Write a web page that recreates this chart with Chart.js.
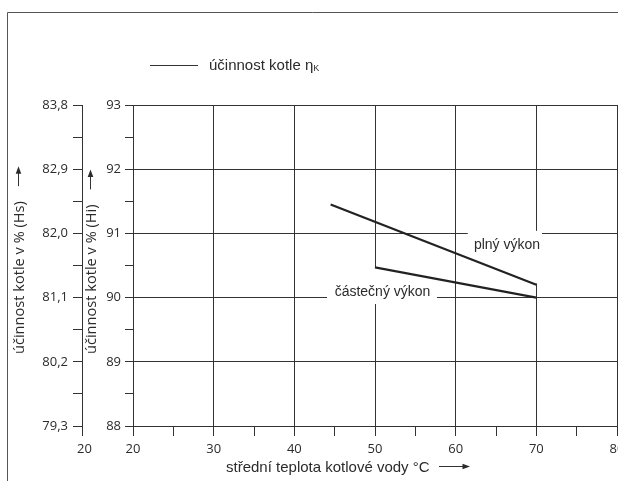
<!DOCTYPE html>
<html>
<head>
<meta charset="utf-8">
<style>
html,body{margin:0;padding:0;background:#fff;}
#wrap{width:618px;height:481px;position:relative;}
canvas{display:block;}
</style>
<script src="https://cdn.jsdelivr.net/npm/chart.js@4/dist/chart.umd.min.js"></script>
</head>
<body>
<div id="wrap"><canvas id="c" width="618" height="481"></canvas></div>
<script>
// ---- data ----
const fullLoadTemp = [44.5, 70];
const fullLoadEff  = [91.45, 90.2];
const partLoadTemp = [50, 70];
const partLoadEff  = [90.47, 90.0];
const seriesNames  = ['plný výkon', 'částečný výkon'];
const xTickLabels  = [20, 30, 40, 50, 60, 70, 80];
const hiTickLabels = [88, 89, 90, 91, 92, 93];
const hsTickLabels = ['79,3', '80,2', '81,1', '82,0', '82,9', '83,8'];
const legendText = 'účinnost kotle η';
const legendSub  = 'K';
const xTitle  = 'střední teplota kotlové vody °C';
const hsTitle = 'účinnost kotle v % (Hs)';
const hiTitle = 'účinnost kotle v % (Hi)';

const INK = '#333333';
const TXT = '#2b2b2b';
const TICKFONT = {family: '"Open Sans", sans-serif', size: 13};

function withMinor(vals, labels) {
  const out = [];
  for (let i = 0; i < vals.length; i++) {
    out.push({value: vals[i], lbl: String(labels[i])});
    if (i < vals.length - 1) out.push({value: (vals[i] + vals[i + 1]) / 2, lbl: ''});
  }
  return out;
}
const hsValues = hsTickLabels.map(s => parseFloat(s.replace(',', '.')));

function toPts(xs, ys) { return xs.map((x, i) => ({x: x, y: ys[i]})); }
const gridCol = c => (c.tick && c.tick.lbl) ? INK : 'rgba(0,0,0,0)';

const annotations = [
  {text: seriesNames[0], x: 66.36, y: 90.76, box: {x1: 61.5, x2: 70.7, y1: 91.04, y2: 90.22}},
  {text: seriesNames[1], x: 50.93, y: 90.02, box: {x1: 44.05, x2: 57.68, y1: 90.46, y2: 89.9}}
];

function arrow(ctx, x1, y1, x2, y2) {
  const a = Math.atan2(y2 - y1, x2 - x1), h = 7.5, w = 2.8;
  ctx.beginPath(); ctx.moveTo(x1, y1);
  ctx.lineTo(x2 - Math.cos(a) * h * 0.8, y2 - Math.sin(a) * h * 0.8); ctx.stroke();
  ctx.beginPath(); ctx.moveTo(x2, y2);
  ctx.lineTo(x2 - Math.cos(a) * h - Math.sin(a) * w, y2 - Math.sin(a) * h + Math.cos(a) * w);
  ctx.lineTo(x2 - Math.cos(a) * h + Math.sin(a) * w, y2 - Math.sin(a) * h - Math.cos(a) * w);
  ctx.closePath(); ctx.fill();
}

const decor = {
  id: 'decor',
  beforeDraw(chart) {
    const ctx = chart.ctx;
    ctx.save();
    ctx.fillStyle = '#fff'; ctx.fillRect(0, 0, chart.width, chart.height);
    ctx.strokeStyle = '#555'; ctx.lineWidth = 1;
    ctx.beginPath(); ctx.moveTo(7.5, chart.height); ctx.lineTo(7.5, 12.5); ctx.lineTo(chart.width, 12.5); ctx.stroke();
    ctx.restore();
  },
  beforeDatasetsDraw(chart) {
    const ctx = chart.ctx, xs = chart.scales.x, ys = chart.scales.y;
    ctx.save(); ctx.fillStyle = '#fff';
    annotations.forEach(a => {
      const x1 = xs.getPixelForValue(a.box.x1), x2 = xs.getPixelForValue(a.box.x2);
      const y1 = ys.getPixelForValue(a.box.y1), y2 = ys.getPixelForValue(a.box.y2);
      ctx.fillRect(x1, y1, x2 - x1, y2 - y1);
    });
    ctx.restore();
  },
  afterDraw(chart) {
    const ctx = chart.ctx, xs = chart.scales.x, ys = chart.scales.y, hs = chart.scales.y2;
    const area = chart.chartArea;
    ctx.save();
    ctx.fillStyle = TXT; ctx.strokeStyle = TXT; ctx.lineWidth = 1;
    // series labels
    ctx.font = '14px "Liberation Sans", Arial, sans-serif';
    ctx.textAlign = 'center'; ctx.textBaseline = 'alphabetic';
    annotations.forEach(a => ctx.fillText(a.text, xs.getPixelForValue(a.x), ys.getPixelForValue(a.y)));
    // legend
    ctx.strokeStyle = '#333';
    ctx.beginPath(); ctx.moveTo(150, 65.5); ctx.lineTo(198, 65.5); ctx.stroke();
    ctx.textAlign = 'left';
    ctx.font = '15px "Liberation Sans", Arial, sans-serif';
    ctx.fillText(legendText, 209, 69.5);
    const lw = ctx.measureText(legendText).width;
    ctx.font = '9px "Liberation Sans", Arial, sans-serif';
    ctx.fillText(legendSub, 209 + lw, 71);
    // x title + arrow
    ctx.font = '15px "Liberation Sans", Arial, sans-serif';
    ctx.fillText(xTitle, 226, 472);
    arrow(ctx, 439, 466.5, 470, 466.5);
    // rotated y titles
    ctx.font = '14.6px "Open Sans", sans-serif';
    ctx.textBaseline = 'middle';
    [[hsTitle, 20], [hiTitle, ys.left + 10]].forEach(([t, x]) => {
      ctx.save(); ctx.translate(x, area.bottom - 72); ctx.rotate(-Math.PI / 2);
      ctx.fillText(t, 0, 0);
      const w = ctx.measureText(t).width;
      ctx.restore();
      const top = area.bottom - 72 - w;
      arrow(ctx, x - 1.5, top - 15, x - 1.5, top - 35);
    });
    // Hs axis foot with its own "20"
    ctx.strokeStyle = INK;
    const fx = Math.round(hs.right) + 0.5;
    ctx.beginPath(); ctx.moveTo(fx, area.bottom); ctx.lineTo(fx, area.bottom + 10); ctx.stroke();
    ctx.fillStyle = TXT;
    ctx.font = '13px "Open Sans", sans-serif';
    ctx.textAlign = 'center'; ctx.textBaseline = 'middle';
    ctx.fillText(String(xTickLabels[0]), fx + 2, 449);
    ctx.restore();
  }
};

new Chart(document.getElementById('c'), {
  type: 'line',
  data: {
    datasets: [
      {label: seriesNames[0], data: toPts(fullLoadTemp, fullLoadEff), borderColor: '#222', borderWidth: 2.2, pointRadius: 0, tension: 0, yAxisID: 'y'},
      {label: seriesNames[1], data: toPts(partLoadTemp, partLoadEff), borderColor: '#222', borderWidth: 2.2, pointRadius: 0, tension: 0, yAxisID: 'y'}
    ]
  },
  options: {
    responsive: false,
    animation: false,
    devicePixelRatio: 1,
    layout: {padding: {top: 105, left: 0, right: 1, bottom: 0}},
    plugins: {legend: {display: false}, tooltip: {enabled: false}, title: {display: false}},
    scales: {
      x: {
        type: 'linear', position: 'bottom', min: 20, max: 80,
        afterBuildTicks: s => { s.ticks = withMinor(xTickLabels, xTickLabels); },
        afterFit: s => { s.height = 55; s.paddingLeft = 0; s.paddingRight = 0; },
        ticks: {autoSkip: false, maxRotation: 0, padding: 5, font: TICKFONT, color: TXT,
                callback: (v, i, t) => t[i].lbl || ''},
        grid: {color: gridCol, tickColor: INK, tickLength: 10, lineWidth: 1},
        border: {color: INK, width: 1}
      },
      y: {
        type: 'linear', position: 'left', weight: 0, min: 88, max: 93,
        afterBuildTicks: s => { s.ticks = withMinor(hiTickLabels, hiTickLabels); },
        afterFit: s => { s.width = 51; s.paddingTop = 0; s.paddingBottom = 0; },
        ticks: {autoSkip: false, padding: 4, font: TICKFONT, color: TXT,
                callback: (v, i, t) => t[i].lbl || ''},
        grid: {color: gridCol, tickColor: INK, tickLength: 8, lineWidth: 1},
        border: {color: INK, width: 1}
      },
      y2: {
        type: 'linear', position: 'left', weight: 1,
        min: hsValues[0], max: hsValues[hsValues.length - 1],
        afterBuildTicks: s => { s.ticks = withMinor(hsValues, hsTickLabels); },
        afterFit: s => { s.width = 82; s.paddingTop = 0; s.paddingBottom = 0; },
        ticks: {autoSkip: false, padding: 5, font: TICKFONT, color: TXT,
                callback: (v, i, t) => t[i].lbl || ''},
        grid: {drawOnChartArea: false, color: INK, tickColor: INK, tickLength: 9, lineWidth: 1},
        border: {color: INK, width: 1}
      }
    }
  },
  plugins: [decor]
});
</script>
</body>
</html>
